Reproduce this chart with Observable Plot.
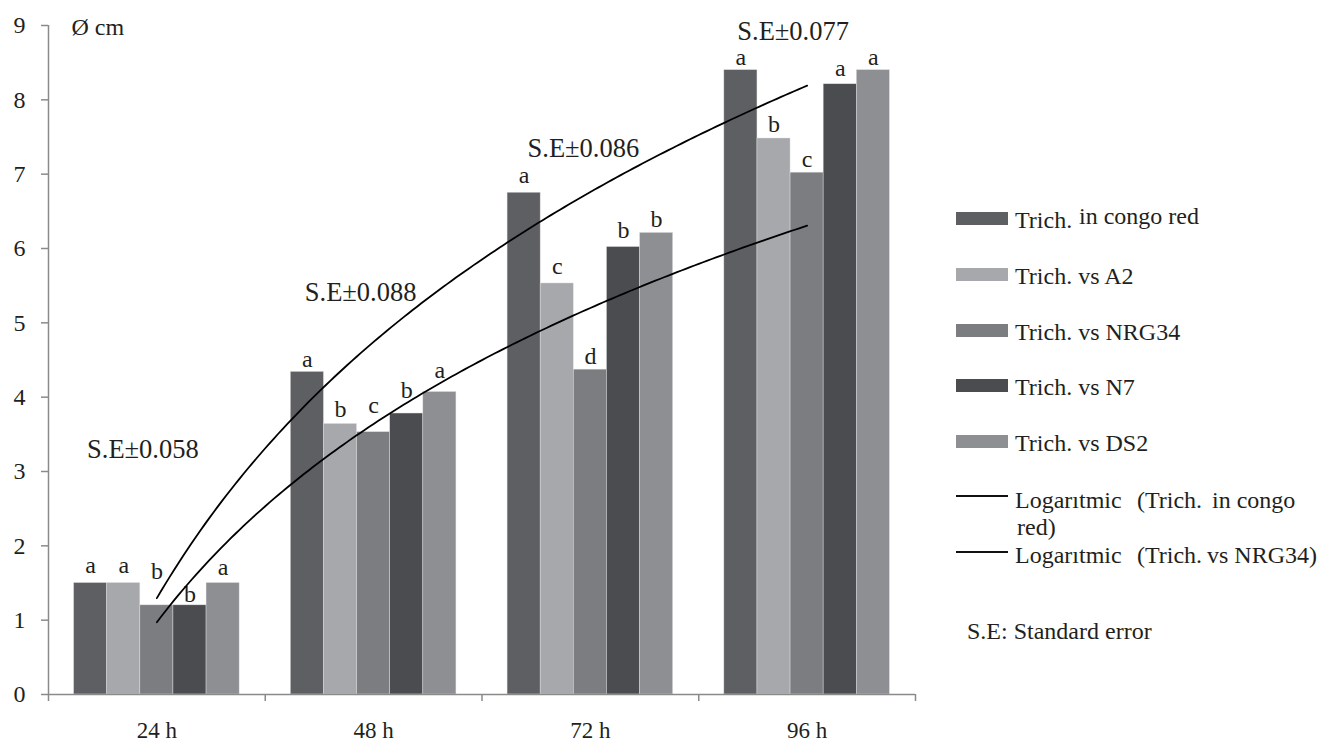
<!DOCTYPE html>
<html>
<head>
<meta charset="utf-8">
<script src="https://cdn.jsdelivr.net/npm/d3@7"></script>
<script src="https://cdn.jsdelivr.net/npm/@observablehq/plot@0.6"></script>
<style>
  html, body { margin: 0; padding: 0; background: #fff; }
  #wrap { position: relative; width: 1321px; height: 742px; font-family: "Liberation Serif", "DejaVu Serif", serif; color: #231f20; }
  #legend { position: absolute; left: 0; top: 0; width: 1321px; height: 742px; pointer-events: none; }
  .sw { position: absolute; width: 52px; height: 13px; }
  .ln { position: absolute; width: 52px; height: 0; border-top: 2px solid #111; }
  .tx { position: absolute; font-size: 24px; line-height: 1; white-space: pre; font-family: "Liberation Serif", "DejaVu Serif", serif; }
  svg text { font-family: "Liberation Serif", "DejaVu Serif", serif; }
</style>
</head>
<body>
<div id="wrap"><div id="chart"></div><div id="legend"></div></div>
<script>
// ---- data ----
const times = ["24 h", "48 h", "72 h", "96 h"];
const series = ["Trich. in congo red", "Trich. vs A2", "Trich. vs NRG34", "Trich. vs N7", "Trich. vs DS2"];
const congoRed = [1.50, 4.34, 6.75, 8.40];
const vsA2     = [1.50, 3.64, 5.53, 7.48];
const vsNRG34  = [1.20, 3.53, 4.37, 7.02];
const vsN7     = [1.20, 3.78, 6.02, 8.21];
const vsDS2    = [1.50, 4.07, 6.21, 8.40];
const lettersCongoRed = ["a", "a", "a", "a"];
const lettersA2       = ["a", "b", "c", "b"];
const lettersNRG34    = ["b", "c", "d", "c"];
const lettersN7       = ["b", "b", "b", "a"];
const lettersDS2      = ["a", "a", "b", "a"];
const seLabels = ["S.E±0.058", "S.E±0.088", "S.E±0.086", "S.E±0.077"];
const yTicks = [0, 1, 2, 3, 4, 5, 6, 7, 8, 9];
const colors = ["#5e5f63", "#a6a8ab", "#7c7d81", "#4b4c50", "#8e8f93"];
const trendNames = ["Logarıtmic   (Trich.  in congo red)", "Logarıtmic   (Trich.  vs NRG34)"];
const seNote = "S.E: Standard error";

// ---- build tables ----
const values = [congoRed, vsA2, vsNRG34, vsN7, vsDS2];
const letters = [lettersCongoRed, lettersA2, lettersNRG34, lettersN7, lettersDS2];
const rows = [];
times.forEach((t, i) => series.forEach((s, j) => rows.push({t, i: i + 1, j, s, v: values[j][i], letter: letters[j][i]})));

function logFit(vals) {
  const xs = vals.map((_, k) => Math.log(k + 1));
  const mx = d3.mean(xs), my = d3.mean(vals);
  const sxy = d3.sum(xs, (x, k) => (x - mx) * (vals[k] - my));
  const sxx = d3.sum(xs, x => (x - mx) ** 2);
  const a = sxy / sxx;
  return {a, b: my - a * mx};
}
const trendSeries = [["congo", congoRed], ["nrg", vsNRG34]];
const trendPts = trendSeries.flatMap(([k, vals]) => {
  const {a, b} = logFit(vals);
  return d3.range(1, 4.0001, 0.02).map(t => ({k, t, y: a * Math.log(t) + b}));
});

// ---- layout ----
const W = 1321, H = 742, mT = 25, mB = 48, mL = 48, mR = 406;
const pxPerUnit = (H - mT - mB) / 9;
const pxPerCat = (W - mL - mR) / 4;
const w = 0.1528; // bar width in category units
const labelGap = [[10, 10, 26, 3, 8], [5, 7, 19, 16, 14], [10, 9, 6, 9, 6], [5, 6, 6, 8, 5]];
const seDx = [-14, -13, -7, -14];
const seBase = [457, 300, 156, 39];
const FONT = "'Liberation Serif', 'DejaVu Serif', serif";

const chart = Plot.plot({
  width: W, height: H,
  marginLeft: mL, marginRight: mR, marginTop: mT, marginBottom: mB,
  x: {type: "linear", domain: [0.5, 4.5]},
  y: {domain: [0, 9]},
  color: {domain: series, range: colors},
  style: {fontFamily: FONT, fontSize: "24px", color: "#231f20", background: "white"},
  marks: [
    Plot.rectY(rows, {
      x1: d => d.i + (d.j - 2.5) * w,
      x2: d => d.i + (d.j - 1.5) * w,
      y1: 0, y2: "v", fill: "s", stroke: "#e6e6e6", strokeWidth: 0.6, strokeOpacity: 0.7
    }),
    Plot.ruleX([0.5], {y1: 0, y2: 9, stroke: "#8a8a8a", strokeWidth: 1.5}),
    Plot.ruleY([0], {x1: 0.5, x2: 4.5, stroke: "#8a8a8a", strokeWidth: 1.5}),
    Plot.axisY({ticks: yTicks, tickSize: 7, tickPadding: 16, fontSize: 24, stroke: "#8a8a8a", fill: "#231f20", label: null, strokeWidth: 1.5}),
    Plot.axisX({ticks: [0.5, 1.5, 2.5, 3.5, 4.5], tickSize: 7, tickFormat: () => "", stroke: "#8a8a8a", label: null, strokeWidth: 1.5}),
    Plot.axisX({ticks: [1, 2, 3, 4], tickSize: 0, tickPadding: 27, tickFormat: k => times[k - 1], fontSize: 23, fill: "#231f20", label: null}),
    Plot.text(rows, {
      x: d => d.i + (d.j - 2) * w,
      y: d => d.v + labelGap[d.i - 1][d.j] / pxPerUnit,
      text: "letter", lineAnchor: "bottom", textAnchor: "middle", fontSize: 24, fill: "#231f20"
    }),
    Plot.line(trendPts, {x: "t", y: "y", z: "k", stroke: "#000", strokeWidth: 1.8}),
    Plot.text(seLabels, {
      x: (d, k) => k + 1 + seDx[k] / pxPerCat,
      y: (d, k) => (H - mB - seBase[k]) / pxPerUnit,
      text: d => d, lineAnchor: "bottom", textAnchor: "middle", fontSize: 26.5, fill: "#231f20"
    }),
    Plot.text(["Ø cm"], {frameAnchor: "top-left", text: d => d, dx: 23, dy: 9, lineAnchor: "bottom", textAnchor: "start", fontSize: 24, fill: "#231f20"})
  ]
});
document.getElementById("chart").appendChild(chart);

// ---- legend ----
const lg = document.getElementById("legend");
function add(cls, css, text) {
  const e = document.createElement("div");
  e.className = cls;
  Object.assign(e.style, css);
  if (text != null) e.textContent = text;
  lg.appendChild(e);
  return e;
}
const rowCenters = [218.5, 274.5, 330, 385.5, 441.5];
series.forEach((s, j) => {
  add("sw", {left: "956px", top: (rowCenters[j] - 6.5) + "px", background: colors[j]});
  const base = rowCenters[j] + 8.5;
  if (j === 0) {
    const [first, ...rest] = s.split(" ");
    add("tx", {left: "1015px", top: (base - 19) + "px"}, first);
    add("tx", {left: "1079px", top: (base - 23) + "px"}, rest.join(" "));
  } else {
    add("tx", {left: "1015px", top: (base - 19) + "px"}, s);
  }
});
// trend line entries
const t0 = trendNames[0].split(/\s{2,}/);
add("ln", {left: "956px", top: "495px"});
add("tx", {left: "1015px", top: (507 - 19) + "px"}, t0[0]);
add("tx", {left: "1137px", top: (507 - 19) + "px"}, t0[1]);
const tail = t0[2].split(" ");
add("tx", {left: "1212px", top: (507 - 19) + "px"}, tail.slice(0, 2).join(" "));
add("tx", {left: "1017px", top: (534 - 19) + "px"}, tail.slice(2).join(" "));
const t1 = trendNames[1].split(/\s{2,}/);
add("ln", {left: "956px", top: "551px"});
add("tx", {left: "1015px", top: (562 - 19) + "px"}, t1[0]);
add("tx", {left: "1137px", top: (562 - 19) + "px"}, t1[1]);
add("tx", {left: "1207px", top: (562 - 19) + "px"}, t1[2]);
add("tx", {left: "967px", top: (638 - 19) + "px"}, seNote);
</script>
</body>
</html>
